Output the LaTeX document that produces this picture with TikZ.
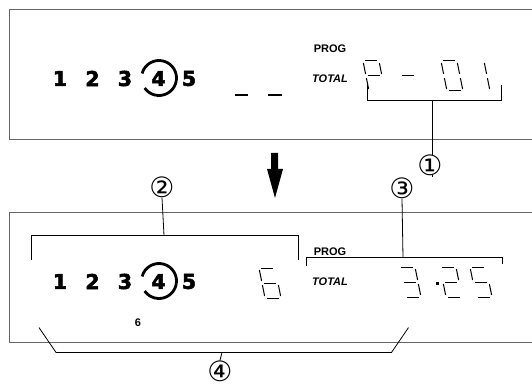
\documentclass[tikz,border=0pt]{standalone}
\usepackage{fontspec}
\setmainfont{Liberation Sans}
\newfontfamily\dvs{DejaVu Sans}
\newfontfamily\heavy[FakeBold=2.5]{DejaVu Sans Bold}
\newfontfamily\lsans{Liberation Sans}
\def\sw{16}\def\sh{30}\def\sgap{2}
\newcommand\SA{\draw[seg] (\sgap,\sh) -- ({\sw-\sgap},\sh);}
\newcommand\SB{\draw[seg] (\sw,{\sh-\sgap}) -- (\sw,{\sh/2+\sgap});}
\newcommand\SC{\draw[seg] (\sw,{\sh/2-\sgap}) -- (\sw,\sgap);}
\newcommand\SD{\draw[seg] (\sgap,0) -- ({\sw-\sgap},0);}
\newcommand\SE{\draw[seg] (0,\sgap) -- (0,{\sh/2-\sgap});}
\newcommand\SF{\draw[seg] (0,{\sh/2+\sgap}) -- (0,{\sh-\sgap});}
\newcommand\SG{\draw[seg] (\sgap,{\sh/2}) -- ({\sw-\sgap},{\sh/2});}
\newcommand\segdigit[3]{\begin{scope}[shift={(#1,#2)},yscale=-1,xslant=0.2]#3\end{scope}}
\tikzset{
 boxline/.style={draw=black!60, line width=1pt},
 bracket/.style={draw=black, line width=0.8pt},
 seg/.style={draw=black, line width=1pt},
 bigdigit/.style={font=\heavy\fontsize{20.5}{20.5}\selectfont, inner sep=0},
 smalllabel/.style={font=\lsans\bfseries\fontsize{11}{11}\selectfont, inner sep=0},
 italiclabel/.style={font=\lsans\bfseries\itshape\fontsize{11}{11}\selectfont, inner sep=0},
 callout/.style={font=\dvs\fontsize{28}{28}\selectfont, inner sep=0, fill=white},
}
\begin{document}
\begin{tikzpicture}[x=1pt,y=-1pt]
\useasboundingbox (0,0) rectangle (532,387);
% boxes
\draw[boxline] (532,10) -- (9,10) -- (9,140) -- (532,140);
\draw[boxline] (532,212.7) -- (9,212.7) -- (9,342.7) -- (532,342.7);
% ---------- top display
\foreach \n/\x in {1/60,2/92.5,3/125,4/158.5,5/189}{
  \node[bigdigit] (t\n) at (\x,78.5) {\n};
}
\draw[line width=2.8pt] ([shift={(195:17.5)}]159,78) arc[start angle=195, end angle=505, radius=17.5];
\draw[line width=2pt] (235,95.5) -- (248,95.5);
\draw[line width=2pt] (268,95.5) -- (282,95.5);
\node[smalllabel] (tprog) at (330,49) {PROG};
\node[italiclabel] (ttotal) at (330,79) {TOTAL};
\segdigit{369}{91}{\SA\SB\SF\SG\SE}
\segdigit{403}{91}{\SG}
\segdigit{447}{91}{\SA\SB\SC\SD\SE\SF}
\segdigit{474}{91}{\SB\SC}
% callout 1
\coordinate (b1) at (432,100.7);
\draw[bracket] (367,85) |- (501,100.7) -- (501,85);
\draw[bracket] (b1) -- (432,177);
\node[callout] (c1) at (430,165) {①};
% arrow
\fill (271,153) -- (278,153) -- (278,169) -- (283,169) -- (275,198) -- (267,169) -- (271,169) -- cycle;
% ---------- bottom display
\foreach \n/\x in {1/60,2/92.5,3/125,4/158.5,5/189}{
  \node[bigdigit] (b\n) at (\x,281.5) {\n};
}
\draw[line width=2.8pt] ([shift={(195:17.5)}]159,281) arc[start angle=195, end angle=505, radius=17.5];
\node[smalllabel] (six) at (138,323) {6};
\node[smalllabel] (bprog) at (330,252) {PROG};
\node[italiclabel] (btotal) at (330,282) {TOTAL};
\segdigit{265}{298}{\SA\SC\SD\SE\SF\SG}
\segdigit{405}{297}{\SA\SB\SC\SD\SG}
\fill (436,282) rectangle (438.5,284.5);
\segdigit{446}{297}{\SA\SB\SG\SE\SD}
\segdigit{476}{297}{\SA\SF\SG\SC\SD}
% callout 2
\node[callout] (c2) at (162,187) {②};
\draw[bracket] (31.5,260) |- (298,235.6) -- (298,260);
\draw[bracket] (c2.south) -- (164,235.6);
% callout 3
\node[callout] (c3) at (402,188) {③};
\draw[bracket] (306,266) |- (502,257.7) -- (502,264);
\draw[bracket] (c3.south) -- (403,257.7);
% callout 4
\node[callout] (c4) at (220,371) {④};
\draw[bracket] (39,327.6) -- (56,352.4) -- (391.5,352.4) -- (408.5,327.6);
\draw[bracket] (222,352.4) -- (c4.north);
\end{tikzpicture}
\end{document}
